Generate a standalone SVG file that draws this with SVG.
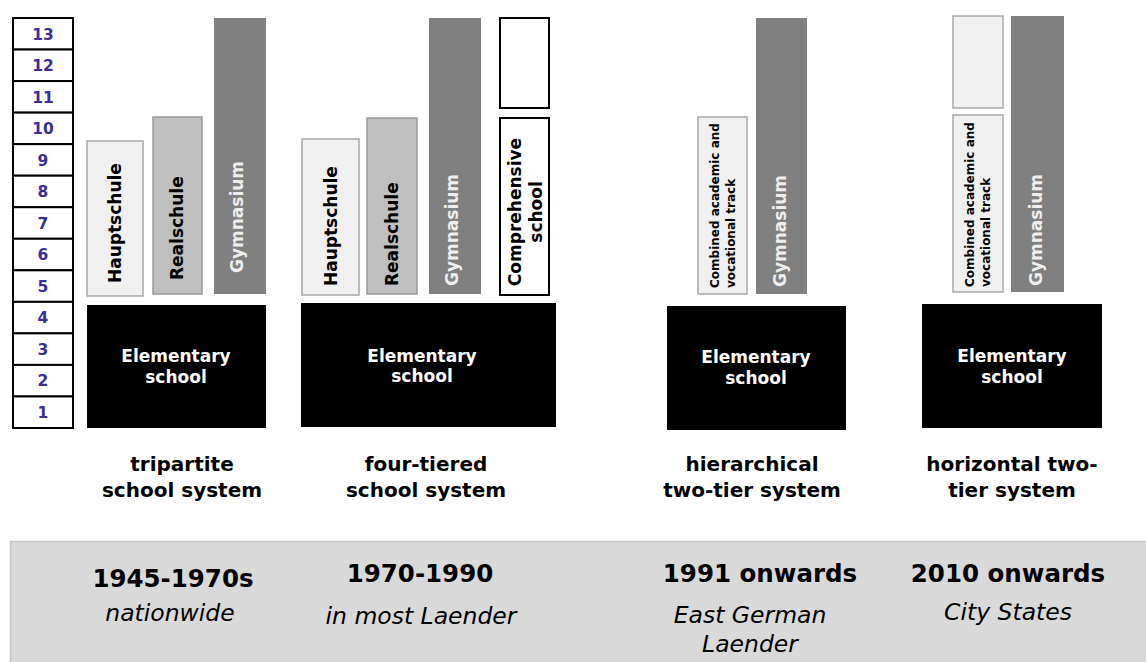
<svg xmlns="http://www.w3.org/2000/svg" width="1146" height="662" viewBox="0 0 1146 662">
<style>
text{font-family:"DejaVu Sans",Verdana,sans-serif}
.b{font-weight:bold}
.light{fill:#f0f0f0;stroke:#a8a8a8;stroke-width:1.5}
.mid{fill:#bfbfbf;stroke:#9a9a9a;stroke-width:1.5}
.dark{fill:#808080}
.elem{fill:#000}
.comp{fill:#fff;stroke:#000;stroke-width:2}
.cell{fill:#fff;stroke:#000;stroke-width:2}
.num{font-weight:bold;font-size:15.5px;fill:#3b2c9a;text-anchor:middle}
.vt{font-weight:bold;font-size:17px;fill:#000}
.vtw{font-weight:bold;font-size:17px;fill:#eeeeee}
.vs{font-weight:bold;font-size:12px;fill:#000}
.et{font-weight:bold;font-size:17px;fill:#fff;text-anchor:middle}
.lab{font-weight:bold;font-size:20px;fill:#000;text-anchor:middle}
.yr{font-weight:bold;font-size:24.5px;fill:#000;text-anchor:middle}
.it{font-style:italic;font-size:23.5px;fill:#000;text-anchor:middle}
</style>
<g id="grades">
<rect class="cell" x="13" y="18" width="60" height="31.54"/>
<rect class="cell" x="13" y="49.54" width="60" height="31.54"/>
<rect class="cell" x="13" y="81.08" width="60" height="31.54"/>
<rect class="cell" x="13" y="112.62" width="60" height="31.54"/>
<rect class="cell" x="13" y="144.15" width="60" height="31.54"/>
<rect class="cell" x="13" y="175.69" width="60" height="31.54"/>
<rect class="cell" x="13" y="207.23" width="60" height="31.54"/>
<rect class="cell" x="13" y="238.77" width="60" height="31.54"/>
<rect class="cell" x="13" y="270.31" width="60" height="31.54"/>
<rect class="cell" x="13" y="301.85" width="60" height="31.54"/>
<rect class="cell" x="13" y="333.38" width="60" height="31.54"/>
<rect class="cell" x="13" y="364.92" width="60" height="31.54"/>
<rect class="cell" x="13" y="396.46" width="60" height="31.54"/>
<text class="num" x="43" y="39.5">13</text>
<text class="num" x="43" y="71">12</text>
<text class="num" x="43" y="102.5">11</text>
<text class="num" x="43" y="134.1">10</text>
<text class="num" x="43" y="165.6">9</text>
<text class="num" x="43" y="197.2">8</text>
<text class="num" x="43" y="228.7">7</text>
<text class="num" x="43" y="260.3">6</text>
<text class="num" x="43" y="291.8">5</text>
<text class="num" x="43" y="323.3">4</text>
<text class="num" x="43" y="354.9">3</text>
<text class="num" x="43" y="386.4">2</text>
<text class="num" x="43" y="418">1</text>
</g>
<g id="tripartite">
<rect class="light" x="87" y="141" width="56" height="155"/>
<text class="vt" transform="translate(121,283) rotate(-90)">Hauptschule</text>
<rect class="mid" x="153" y="117" width="49" height="177"/>
<text class="vt" transform="translate(183,280) rotate(-90)">Realschule</text>
<rect class="dark" x="214" y="18" width="52" height="276"/>
<text class="vtw" transform="translate(243,273) rotate(-90)">Gymnasium</text>
<rect class="elem" x="87" y="305" width="179" height="123"/>
<text class="et" x="176" y="362">Elementary</text>
<text class="et" x="176" y="383">school</text>
<text class="lab" x="182" y="471">tripartite</text>
<text class="lab" x="182" y="497">school system</text>
</g>
<g id="fourtiered">
<rect class="light" x="302" y="139" width="57" height="156"/>
<text class="vt" transform="translate(337,286) rotate(-90)">Hauptschule</text>
<rect class="mid" x="367" y="118" width="50" height="176"/>
<text class="vt" transform="translate(398,286) rotate(-90)">Realschule</text>
<rect class="dark" x="429" y="18" width="52" height="276"/>
<text class="vtw" transform="translate(458,286) rotate(-90)">Gymnasium</text>
<rect class="comp" x="500" y="18" width="49" height="90"/>
<rect class="comp" x="500" y="118" width="49" height="177"/>
<text class="vt" text-anchor="middle" transform="translate(521,212) rotate(-90)">Comprehensive</text>
<text class="vt" text-anchor="middle" transform="translate(542,212) rotate(-90)">school</text>
<rect class="elem" x="301" y="303" width="255" height="124"/>
<text class="et" x="422" y="362">Elementary</text>
<text class="et" x="422" y="382">school</text>
<text class="lab" x="426" y="471">four-tiered</text>
<text class="lab" x="426" y="497">school system</text>
</g>
<g id="hierarchical">
<rect class="light" x="698" y="117" width="49" height="177"/>
<text class="vs" transform="translate(719,288) rotate(-90)">Combined academic and</text>
<text class="vs" transform="translate(735,288) rotate(-90)">vocational track</text>
<rect class="dark" x="756" y="18" width="51" height="276"/>
<text class="vtw" transform="translate(786,287) rotate(-90)">Gymnasium</text>
<rect class="elem" x="667" y="306" width="179" height="124"/>
<text class="et" x="756" y="363">Elementary</text>
<text class="et" x="756" y="384">school</text>
<text class="lab" x="752" y="471">hierarchical</text>
<text class="lab" x="752" y="497">two-tier system</text>
</g>
<g id="horizontal">
<rect class="light" x="953" y="16" width="50" height="92"/>
<rect class="light" x="953" y="115" width="50" height="177"/>
<text class="vs" transform="translate(974,287) rotate(-90)">Combined academic and</text>
<text class="vs" transform="translate(990,287) rotate(-90)">vocational track</text>
<rect class="dark" x="1011" y="16" width="53" height="276"/>
<text class="vtw" transform="translate(1042,286) rotate(-90)">Gymnasium</text>
<rect class="elem" x="922" y="304" width="180" height="124"/>
<text class="et" x="1012" y="362">Elementary</text>
<text class="et" x="1012" y="383">school</text>
<text class="lab" x="1012" y="471">horizontal two-</text>
<text class="lab" x="1012" y="497">tier system</text>
</g>
<g id="timeline">
<rect x="10.5" y="541.5" width="1140" height="125" fill="#d9d9d9" stroke="#c6c6c6" stroke-width="1.5"/>
<text class="yr" x="173" y="587">1945-1970s</text>
<text class="it" x="170" y="621">nationwide</text>
<text class="yr" x="420" y="582">1970-1990</text>
<text class="it" x="421" y="624">in most Laender</text>
<text class="yr" x="760" y="582">1991 onwards</text>
<text class="it" x="750" y="623">East German</text>
<text class="it" x="750" y="652">Laender</text>
<text class="yr" x="1008" y="582">2010 onwards</text>
<text class="it" x="1008" y="620">City States</text>
</g>
<g id="connectors"></g>
</svg>
